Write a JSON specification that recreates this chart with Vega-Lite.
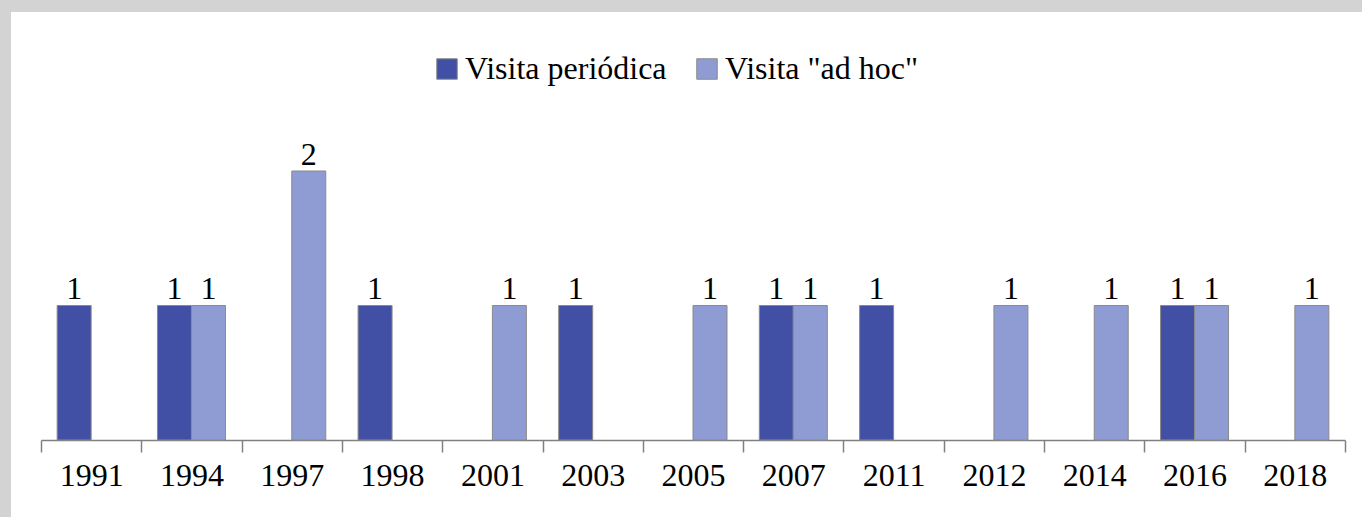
{
  "$schema": "https://vega.github.io/schema/vega-lite/v6.json",
  "width": 1351,
  "height": 505,
  "autosize": "none",
  "padding": {"left": 11, "top": 12, "right": 0, "bottom": 0},
  "background": "#d3d3d4",
  "config": {
    "view": {"fill": "white", "stroke": null},
    "font": "Liberation Serif"
  },
  "data": {
    "values": [
      {"year": "1991", "tipo": "Visita periódica", "n": 1},
      {"year": "1994", "tipo": "Visita periódica", "n": 1},
      {"year": "1994", "tipo": "Visita \"ad hoc\"", "n": 1},
      {"year": "1997", "tipo": "Visita \"ad hoc\"", "n": 2},
      {"year": "1998", "tipo": "Visita periódica", "n": 1},
      {"year": "2001", "tipo": "Visita \"ad hoc\"", "n": 1},
      {"year": "2003", "tipo": "Visita periódica", "n": 1},
      {"year": "2005", "tipo": "Visita \"ad hoc\"", "n": 1},
      {"year": "2007", "tipo": "Visita periódica", "n": 1},
      {"year": "2007", "tipo": "Visita \"ad hoc\"", "n": 1},
      {"year": "2011", "tipo": "Visita periódica", "n": 1},
      {"year": "2012", "tipo": "Visita \"ad hoc\"", "n": 1},
      {"year": "2014", "tipo": "Visita \"ad hoc\"", "n": 1},
      {"year": "2016", "tipo": "Visita periódica", "n": 1},
      {"year": "2016", "tipo": "Visita \"ad hoc\"", "n": 1},
      {"year": "2018", "tipo": "Visita \"ad hoc\"", "n": 1}
    ]
  },
  "encoding": {
    "x": {
      "field": "year",
      "type": "nominal",
      "sort": null,
      "scale": {"range": [30, 1334], "paddingInner": 0, "paddingOuter": 0},
      "axis": {
        "title": null,
        "orient": "bottom",
        "offset": -77,
        "labelAngle": 0,
        "labelFont": "Liberation Serif",
        "labelFontSize": 32,
        "labelColor": "#000000",
        "labelPadding": 8,
        "domainColor": "#808080",
        "domainWidth": 1.5,
        "tickColor": "#808080",
        "tickWidth": 1.5,
        "tickSize": 12,
        "tickBand": "extent",
        "grid": false
      }
    },
    "xOffset": {
      "field": "tipo",
      "type": "nominal",
      "scale": {"domain": ["Visita periódica", "Visita \"ad hoc\""], "paddingInner": 0, "paddingOuter": 0.475}
    },
    "y": {
      "field": "n",
      "type": "quantitative",
      "scale": {"domain": [0, 3.182], "range": [428, 0], "nice": false},
      "axis": null
    }
  },
  "layer": [
    {
      "mark": {"type": "bar", "stroke": "#8a8a8a", "strokeWidth": 1},
      "encoding": {
        "color": {
          "field": "tipo",
          "type": "nominal",
          "scale": {"domain": ["Visita periódica", "Visita \"ad hoc\""], "range": ["#4150a5", "#8f9cd3"]},
          "legend": {
            "title": null,
            "orient": "none",
            "direction": "horizontal",
            "legendX": 420,
            "legendY": 41,
            "padding": 0,
            "symbolType": "square",
            "symbolSize": 420,
            "symbolStrokeColor": "#8a8a8a",
            "symbolStrokeWidth": 1,
            "labelFont": "Times New Roman",
            "labelFontSize": 32,
            "labelColor": "#000000",
            "labelOffset": 2,
            "columnPadding": 24,
            "labelLimit": 400
          }
        }
      }
    },
    {
      "mark": {"type": "text", "baseline": "alphabetic", "dy": -6, "font": "Times New Roman", "fontSize": 32, "color": "#000000"},
      "encoding": {"text": {"field": "n", "type": "quantitative"}}
    }
  ]
}
